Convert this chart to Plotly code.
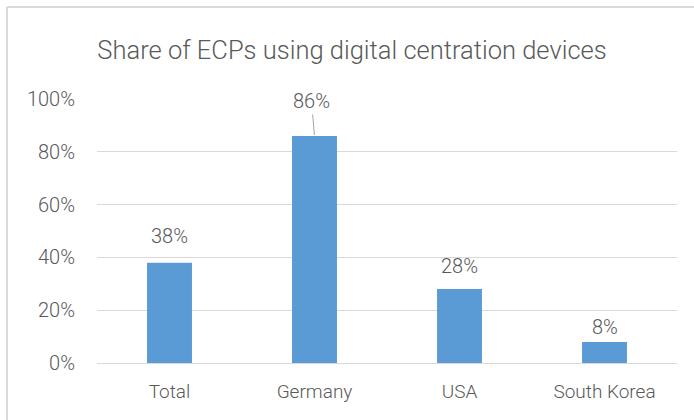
import plotly.graph_objects as go

# ---- data ----
categories = ["Total", "Germany", "USA", "South Korea"]
shares = [0.38, 0.86, 0.28, 0.08]
value_labels = ["38%", "86%", "28%", "8%"]
tick_values = [0, 0.2, 0.4, 0.6, 0.8, 1.0]
tick_labels = ["0%", "20%", "40%", "60%", "80%", "100%"]
title_text = "Share of ECPs using digital centration devices"

# ---- style ----
FONT = "Roboto"
TXT = "#595959"
GRID = "#D9D9D9"
BAR = "#5B9BD5"
W, H = 694, 420
ML, MR, MT, MB = 97, 17, 99, 57
label_offset = {"Total": 27, "USA": 23, "South Korea": 15}

fig = go.Figure()
fig.add_trace(go.Bar(
    x=categories, y=shares,
    marker=dict(color=BAR, line=dict(width=0)),
    hoverinfo="skip",
))

annotations = []
for c, v, t in zip(categories, shares, value_labels):
    if c in label_offset:
        annotations.append(dict(
            x=c, y=v, text=t, showarrow=False, yanchor="middle",
            yshift=label_offset[c],
            font=dict(family=FONT, size=20, color=TXT, weight=300),
        ))
    else:
        annotations.append(dict(
            x=c, y=v, text=t, showarrow=True, arrowhead=0, arrowwidth=1,
            arrowcolor="#A6A6A6", ax=-3, ay=-35, standoff=1,
            font=dict(family=FONT, size=20, color=TXT, weight=300),
        ))

pw = W - ML - MR
ph = H - MT - MB
bx = (7 - ML) / pw
by = 1 + (MT - 7) / ph

fig.update_layout(
    width=W, height=H,
    margin=dict(l=ML, r=MR, t=MT, b=MB),
    paper_bgcolor="white", plot_bgcolor="white",
    bargap=0.69,
    showlegend=False,
    title=dict(text=title_text, x=352 / W, xanchor="center", xref="container",
               y=1 - 50 / H, yanchor="middle", yref="container",
               font=dict(family=FONT, size=25.5, color=TXT, weight=300)),
    xaxis=dict(showgrid=False, showline=True, linecolor=GRID, linewidth=1,
               ticks="", ticklabelstandoff=11,
               tickfont=dict(family=FONT, size=19, color=TXT, weight=300)),
    yaxis=dict(range=[0, 1], tickvals=tick_values, ticktext=tick_labels,
               showgrid=True, gridcolor=GRID, gridwidth=1, zeroline=False,
               showline=False, ticks="", ticklabelstandoff=21,
               tickfont=dict(family=FONT, size=20, color=TXT, weight=300)),
    annotations=annotations,
    shapes=[
        dict(type="line", xref="paper", yref="paper", x0=bx, x1=bx, y0=-1, y1=by,
             line=dict(color=GRID, width=2)),
        dict(type="line", xref="paper", yref="paper", x0=bx, x1=2, y0=by, y1=by,
             line=dict(color=GRID, width=2)),
    ],
)

fig.write_html("out.html", config={"displayModeBar": False},
               post_script="document.body.style.margin='0';")
